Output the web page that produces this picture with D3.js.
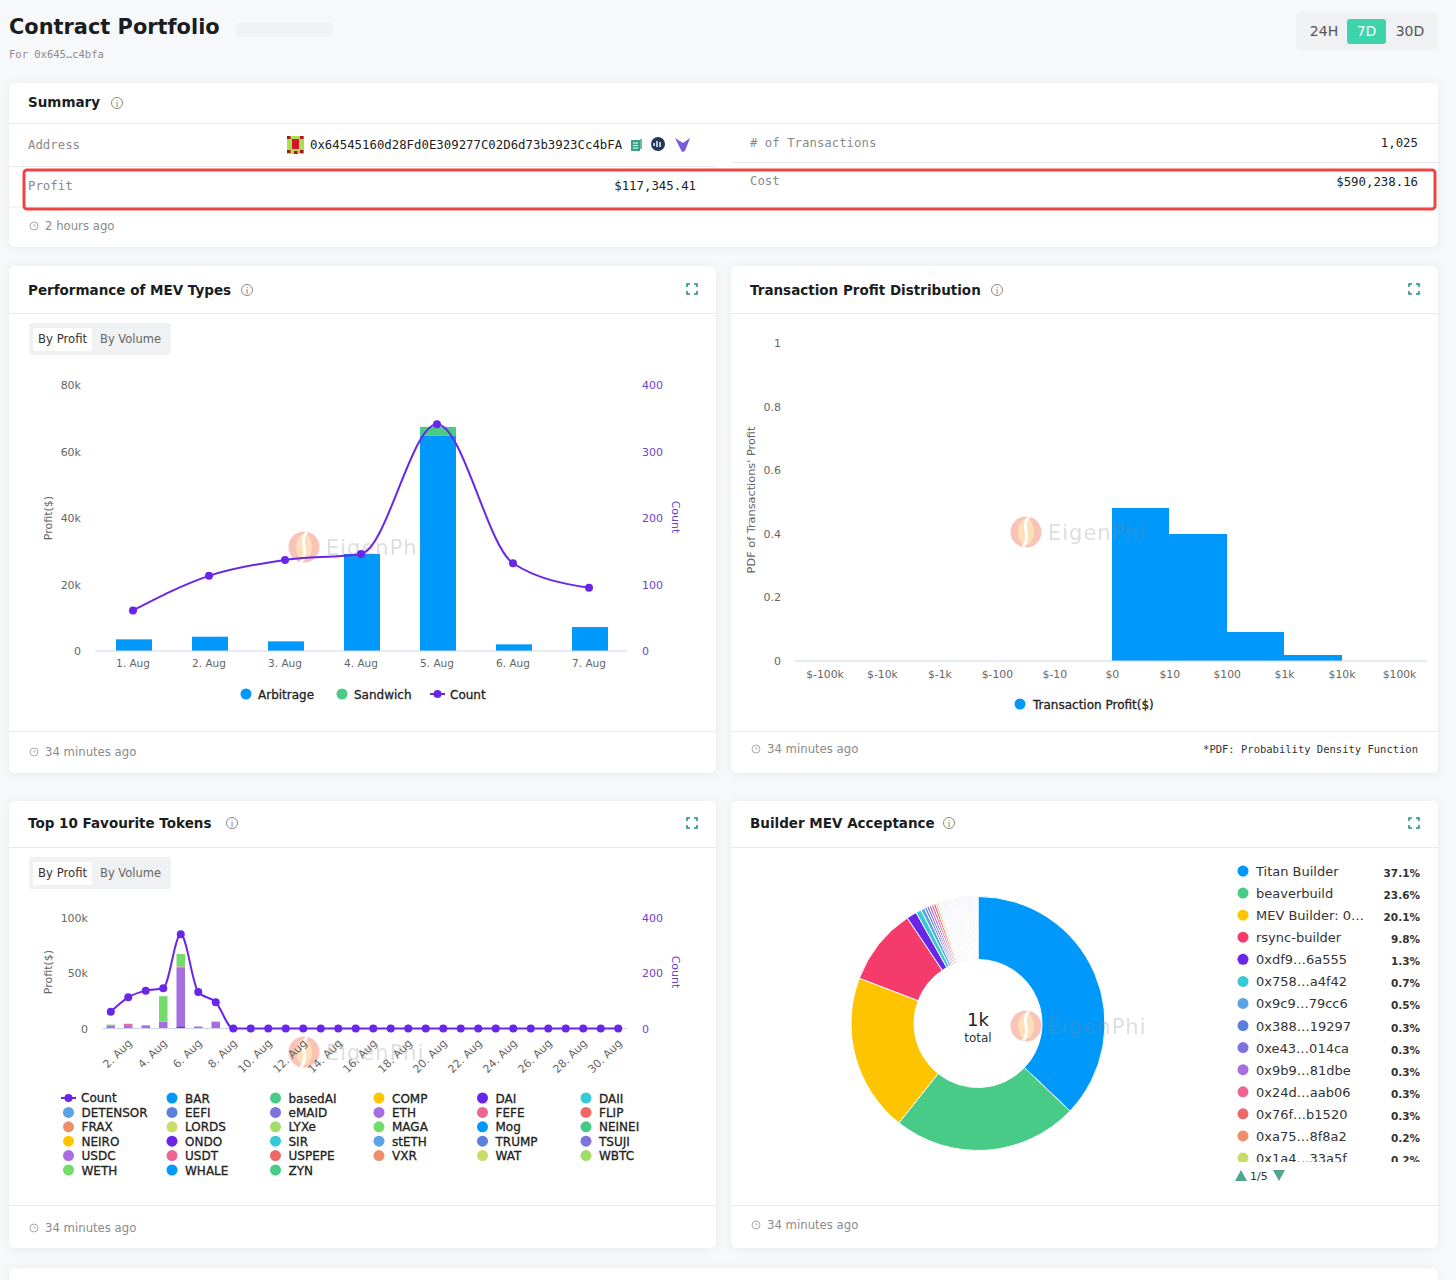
<!DOCTYPE html>
<html>
<head>
<meta charset="utf-8">
<script src="https://cdn.jsdelivr.net/npm/d3@7"></script>
<style>
  html, body { margin: 0; padding: 0; background: #f7f8fa; }
  svg { display: block; font-family: "DejaVu Sans", sans-serif; }
  .mono { font-family: "DejaVu Sans Mono", monospace; }
  .card { fill: #fff; filter: drop-shadow(0 1px 4px rgba(30, 40, 60, 0.07)); }
  .rule { stroke: #e8eaed; stroke-width: 1; }
  .tick text { font-family: "DejaVu Sans", sans-serif; }
  .key { stroke: #222; stroke-width: 0.3; }
</style>
</head>
<body>
<svg id="page" width="1456" height="1280"></svg>
<script>
// Performance of MEV Types
const mevDays = ["1. Aug", "2. Aug", "3. Aug", "4. Aug", "5. Aug", "6. Aug", "7. Aug"];
const arbitrage = [3500, 4300, 2900, 29200, 64700, 2000, 7200];
const sandwich = [0, 0, 0, 0, 2700, 0, 0];
const txCount = [61, 113, 137, 146, 341, 132, 95];
const mevProfitTicks = [0, 20000, 40000, 60000, 80000];
const countTicks = [0, 100, 200, 300, 400];

// Transaction Profit Distribution
const profitBins = ["$-100k", "$-10k", "$-1k", "$-100", "$-10", "$0", "$10", "$100", "$1k", "$10k", "$100k"];
const binDensity = [0, 0, 0, 0, 0, 0.48, 0.40, 0.09, 0.02, 0];
const pdfTicks = [0, 0.2, 0.4, 0.6, 0.8, 1];

// Top 10 Favourite Tokens
const tokenDays = ["1. Aug", "2. Aug", "3. Aug", "4. Aug", "5. Aug", "6. Aug", "7. Aug", "8. Aug", "9. Aug", "10. Aug",
  "11. Aug", "12. Aug", "13. Aug", "14. Aug", "15. Aug", "16. Aug", "17. Aug", "18. Aug", "19. Aug", "20. Aug",
  "21. Aug", "22. Aug", "23. Aug", "24. Aug", "25. Aug", "26. Aug", "27. Aug", "28. Aug", "29. Aug", "30. Aug"];
const tokenCount = [61, 113, 137, 146, 341, 132, 95, 0, 0, 0, 0, 0, 0, 0, 0, 0, 0, 0, 0, 0, 0, 0, 0, 0, 0, 0, 0, 0, 0, 0];
const ondoProfit = [0, 0, 0, 0, 2000, 0, 0];
const usdcProfit = [2200, 3000, 2900, 6200, 53000, 1800, 6200];
const usdtProfit = [0, 1300, 0, 0, 1200, 0, 0];
const wethProfit = [1300, 0, 0, 23000, 11200, 0, 0];
const tokenProfitTicks = [0, 50000, 100000];
const tokenCountTicks = [0, 200, 400];
const tokenNames = ["BAR", "basedAI", "COMP", "DAI", "DAII", "DETENSOR", "EEFI", "eMAID", "ETH", "FEFE", "FLIP",
  "FRAX", "LORDS", "LYXe", "MAGA", "Mog", "NEINEI", "NEIRO", "ONDO", "SIR", "stETH", "TRUMP", "TSUJI",
  "USDC", "USDT", "USPEPE", "VXR", "WAT", "WBTC", "WETH", "WHALE", "ZYN"];

// Builder MEV Acceptance
const builderNames = ["Titan Builder", "beaverbuild", "MEV Builder: 0…", "rsync-builder", "0xdf9…6a555", "0x758…a4f42",
  "0x9c9…79cc6", "0x388…19297", "0xe43…014ca", "0x9b9…81dbe", "0x24d…aab06", "0x76f…b1520", "0xa75…8f8a2", "0x1a4…33a5f"];
const builderLabels = ["37.1%", "23.6%", "20.1%", "9.8%", "1.3%", "0.7%", "0.5%", "0.3%", "0.3%", "0.3%", "0.3%", "0.3%", "0.2%", "0.2%"];
const builderShares = [37.1, 23.6, 20.1, 9.8, 1.3, 0.7, 0.5, 0.3, 0.3, 0.3, 0.3, 0.3, 0.2, 0.2,
  0.1, 0.1, 0.1, 0.1, 0.1, 0.1, 0.1, 0.1, 0.1, 0.1, 0.1, 0.1, 0.1, 0.1, 0.1, 0.1, 0.1, 0.1, 0.1, 0.1, 0.1, 0.1, 0.1, 0.1, 0.1,
  0.1, 0.1, 0.1, 0.1, 0.1, 0.1, 0.1, 0.1, 0.1, 0.1, 0.1, 0.1, 0.1, 0.1, 0.1, 0.1, 0.1, 0.1, 0.1, 0.1, 0.1, 0.1, 0.1, 0.1, 0.1];

const tokenPalette = ["#0098fb", "#48cb87", "#ffc400", "#6a26e8", "#36c9d6", "#5aa3e6", "#5c7fdc", "#7e72dc",
  "#a66ee0", "#ee6593", "#ee6868", "#ee8f6a", "#c8dc6a", "#a2dc6a", "#72dc6a"];
const builderPalette = ["#0098fb", "#48cb87", "#ffc400", "#f43b6b", "#6a26e8", "#36c9d6", "#5aa3e6", "#5c7fdc",
  "#7e72dc", "#a66ee0", "#ee6593", "#ee6868", "#ee8f6a", "#c8dc6a", "#a2dc6a", "#72dc6a"];
const countColor = "#6a26e8";
const axisPurple = "#6b45c9";
const axisGray = "#666";

const svg = d3.select("#page");

function label(g, x, y, str, opts = {}) {
  return g.append("text")
    .attr("x", x).attr("y", y)
    .attr("font-size", opts.size || 12)
    .attr("font-weight", opts.weight || null)
    .attr("fill", opts.fill || "#333")
    .attr("text-anchor", opts.anchor || "start")
    .attr("class", opts.mono ? "mono" : opts.key ? "key" : null)
    .text(str);
}

function hline(x1, x2, y) {
  svg.append("line").attr("class", "rule").attr("x1", x1).attr("x2", x2).attr("y1", y).attr("y2", y);
}

function infoIcon(x, y) {
  svg.append("circle").attr("cx", x).attr("cy", y).attr("r", 5.5).attr("fill", "none").attr("stroke", "#888");
  label(svg, x, y + 3.5, "i", { size: 9, fill: "#777", anchor: "middle" });
}

function expandIcon(x, y) {
  const r = 5, c = 3;
  const corners = [[-1, -1], [1, -1], [-1, 1], [1, 1]];
  svg.selectAll(null).data(corners).join("path")
    .attr("d", ([a, b]) => `M${x + a * r},${y + b * (r - c)}V${y + b * r}H${x + a * (r - c)}`)
    .attr("fill", "none").attr("stroke", "#1d8f7c").attr("stroke-width", 1.5);
}

function timeAgo(x, y, str) {
  svg.append("circle").attr("cx", x + 5).attr("cy", y - 4).attr("r", 4).attr("fill", "none").attr("stroke", "#aaa");
  svg.append("path").attr("d", `M${x + 5},${y - 6}V${y - 4}H${x + 7}`).attr("fill", "none").attr("stroke", "#aaa").attr("stroke-width", 0.8);
  label(svg, x + 16, y, str, { size: 11.7, fill: "#8a8a8a" });
}

function watermark(g, x, y) {
  const w = g.append("g").attr("transform", `translate(${x},${y})`);
  w.append("circle").attr("r", 15.5).attr("fill", "#f7b4a6").attr("opacity", 0.8);
  w.append("ellipse").attr("rx", 8).attr("ry", 13).attr("fill", "#fde2b8").attr("opacity", 0.9);
  w.append("path").attr("d", "M3,-15C-6,-6 6,4 -3,15").attr("fill", "none").attr("stroke", "#fff").attr("stroke-width", 3);
  w.append("text").attr("x", 22).attr("y", 8).attr("font-size", 21).attr("letter-spacing", 1)
    .attr("fill", "#8a8a8a").attr("opacity", 0.28).text("EigenPhi");
}

function byToggle(x, y) {
  svg.append("rect").attr("x", x).attr("y", y).attr("width", 142).attr("height", 32).attr("rx", 3).attr("fill", "#f0f1f3");
  svg.append("rect").attr("x", x + 4).attr("y", y + 5).attr("width", 59).attr("height", 23).attr("rx", 2).attr("fill", "#fff");
  label(svg, x + 9, y + 20, "By Profit", { size: 11.7, fill: "#333" });
  label(svg, x + 71, y + 20, "By Volume", { size: 11.5, fill: "#666" });
}

function styleAxis(g, color, size) {
  g.select(".domain").remove();
  g.selectAll(".tick line").remove();
  g.selectAll(".tick text").attr("fill", color).attr("font-size", size || 11);
}

function axisLine(x1, x2, y) {
  svg.append("line").attr("x1", x1).attr("x2", x2).attr("y1", y).attr("y2", y).attr("stroke", "#ccd6eb");
}

function sideTitle(x, y, str, rot, color, size) {
  svg.append("text").attr("transform", `translate(${x},${y}) rotate(${rot})`)
    .attr("text-anchor", "middle").attr("font-size", size || 11).attr("fill", color).text(str);
}

function countSeries(x, y, counts, names, dotR) {
  const line = d3.line().x((d, i) => x(names[i]) + x.bandwidth() / 2).y((d) => y(d)).curve(d3.curveMonotoneX);
  svg.append("path").attr("d", line(counts)).attr("fill", "none").attr("stroke", countColor).attr("stroke-width", 2);
  svg.selectAll(null).data(counts).join("circle")
    .attr("cx", (d, i) => x(names[i]) + x.bandwidth() / 2)
    .attr("cy", (d) => y(d))
    .attr("r", dotR)
    .attr("fill", countColor);
}

function countKey(x, y) {
  svg.append("line").attr("x1", x).attr("x2", x + 15).attr("y1", y).attr("y2", y).attr("stroke", countColor).attr("stroke-width", 2);
  svg.append("circle").attr("cx", x + 7.5).attr("cy", y).attr("r", 4).attr("fill", countColor);
}

// Page header
label(svg, 9, 34, "Contract Portfolio", { size: 20.9, weight: 700, fill: "#1a1d21" });
svg.append("rect").attr("x", 236).attr("y", 22).attr("width", 97).attr("height", 15).attr("rx", 4).attr("fill", "#f1f2f4");
label(svg, 9, 58, "For 0x645…c4bfa", { size: 10.5, fill: "#8a8a8a", mono: true });
svg.append("rect").attr("x", 1296).attr("y", 12).attr("width", 142).attr("height", 38).attr("rx", 4).attr("fill", "#f0f1f3");
svg.append("rect").attr("x", 1347).attr("y", 19).attr("width", 39).attr("height", 25).attr("rx", 3).attr("fill", "#3dd4ab");
label(svg, 1324, 36, "24H", { size: 14, fill: "#555", anchor: "middle" });
label(svg, 1366.5, 36, "7D", { size: 14, fill: "#fff", anchor: "middle" });
label(svg, 1410, 36, "30D", { size: 14, fill: "#555", anchor: "middle" });

// Cards
const cards = [[9, 83, 1429, 164], [9, 266, 707, 507], [731, 266, 707, 507], [9, 801, 707, 447], [731, 801, 707, 447], [9, 1268, 1429, 30]];
svg.selectAll("rect.card").data(cards).join("rect").attr("class", "card")
  .attr("x", (d) => d[0]).attr("y", (d) => d[1]).attr("width", (d) => d[2]).attr("height", (d) => d[3]).attr("rx", 6);

// Summary
label(svg, 28, 107, "Summary", { size: 13.5, weight: 700, fill: "#1a1d21" });
infoIcon(117, 103);
hline(9, 1438, 123.5);
hline(9, 716, 166.5);
hline(731, 1438, 162.5);
hline(9, 1438, 207);
label(svg, 28, 149, "Address", { size: 12.35, fill: "#8a8a8a", mono: true });
label(svg, 28, 190, "Profit", { size: 12.35, fill: "#8a8a8a", mono: true });
label(svg, 750, 147, "# of Transactions", { size: 12.35, fill: "#8a8a8a", mono: true });
label(svg, 750, 185, "Cost", { size: 12.35, fill: "#8a8a8a", mono: true });
label(svg, 310, 149, "0x64545160d28Fd0E309277C02D6d73b3923Cc4bFA", { size: 12.35, fill: "#222", mono: true });
label(svg, 696, 190, "$117,345.41", { size: 12.35, fill: "#222", mono: true, anchor: "end" });
label(svg, 1418, 147, "1,025", { size: 12.35, fill: "#222", mono: true, anchor: "end" });
label(svg, 1418, 186, "$590,238.16", { size: 12.35, fill: "#222", mono: true, anchor: "end" });
svg.append("rect").attr("x", 287).attr("y", 136).attr("width", 17).attr("height", 18).attr("fill", "#a9e04f");
svg.append("rect").attr("x", 292).attr("y", 139).attr("width", 7).attr("height", 10).attr("fill", "#d8132a");
svg.selectAll(null).data([[287, 136], [300, 136], [287, 150], [300, 150], [294, 151]]).join("rect")
  .attr("x", (d) => d[0]).attr("y", (d) => d[1]).attr("width", 3.5).attr("height", 3).attr("fill", "#b0122a");
svg.append("rect").attr("x", 631).attr("y", 140).attr("width", 9).attr("height", 11).attr("fill", "#3aa387");
svg.append("path").attr("d", "M633,143H638M633,145.5H638M633,148H638").attr("stroke", "#fff").attr("stroke-width", 1);
svg.append("path").attr("d", "M641,139V149").attr("stroke", "#3aa387").attr("stroke-width", 1.5);
svg.append("circle").attr("cx", 658).attr("cy", 144).attr("r", 7).attr("fill", "#23365c");
svg.append("path").attr("d", "M654,146V143M657,147V141M660,147V142").attr("stroke", "#fff").attr("stroke-width", 1.4);
svg.append("path").attr("d", "M675,138L683,143L690,138L685,151L682,152Z").attr("fill", "#7a5be0");
svg.append("rect").attr("x", 24).attr("y", 170).attr("width", 1411).attr("height", 39).attr("rx", 3)
  .attr("fill", "none").attr("stroke", "#ef4444").attr("stroke-width", 3);
timeAgo(29, 230, "2 hours ago");

// Performance of MEV Types
label(svg, 28, 295, "Performance of MEV Types", { size: 13.5, weight: 700, fill: "#1a1d21" });
infoIcon(247, 290);
expandIcon(692, 289);
hline(9, 716, 313.5);
byToggle(29, 323);

const mevX = d3.scaleBand().domain(mevDays).range([95, 627]);
const mevY = d3.scaleLinear().domain([0, 80000]).range([651, 385]);
const mevCountY = d3.scaleLinear().domain([0, 400]).range([651, 385]);
const mevRows = mevDays.map((day, i) => ({ day, Arbitrage: arbitrage[i], Sandwich: sandwich[i] }));
const mevStack = d3.stack().keys(["Arbitrage", "Sandwich"])(mevRows);
const mevColor = d3.scaleOrdinal().domain(["Arbitrage", "Sandwich"]).range([tokenPalette[0], tokenPalette[1]]);

svg.append("g").selectAll("g").data(mevStack).join("g").attr("fill", (s) => mevColor(s.key))
  .selectAll("rect").data((s) => s).join("rect")
  .attr("x", (d) => mevX(d.data.day) + 21)
  .attr("width", mevX.bandwidth() - 40)
  .attr("y", (d) => mevY(d[1]))
  .attr("height", (d) => mevY(d[0]) - mevY(d[1]));
axisLine(95, 627, 651);
watermark(svg, 304, 547);

styleAxis(svg.append("g").attr("transform", "translate(0,651)").call(d3.axisBottom(mevX).tickSize(0).tickPadding(9)), axisGray, 10.5);
styleAxis(svg.append("g").attr("transform", "translate(85,0)").call(
  d3.axisLeft(mevY).tickValues(mevProfitTicks).tickSize(0).tickPadding(4).tickFormat((d) => (d ? d / 1000 + "k" : "0"))), axisGray);
styleAxis(svg.append("g").attr("transform", "translate(638,0)").call(
  d3.axisRight(mevCountY).tickValues(countTicks).tickSize(0).tickPadding(4)), axisPurple);
sideTitle(52, 518, "Profit($)", -90, axisGray);
sideTitle(672, 517, "Count", 90, axisPurple);
countSeries(mevX, mevCountY, txCount, mevDays, 4);

svg.append("circle").attr("cx", 246).attr("cy", 694).attr("r", 5.5).attr("fill", tokenPalette[0]);
label(svg, 258, 699, "Arbitrage", { size: 12, fill: "#222", key: true });
svg.append("circle").attr("cx", 342).attr("cy", 694).attr("r", 5.5).attr("fill", tokenPalette[1]);
label(svg, 354, 699, "Sandwich", { size: 12, fill: "#222", key: true });
countKey(430, 694);
label(svg, 450, 699, "Count", { size: 12, fill: "#222", key: true });

hline(9, 716, 731.5);
timeAgo(29, 756, "34 minutes ago");

// Transaction Profit Distribution
label(svg, 750, 295, "Transaction Profit Distribution", { size: 13.5, weight: 700, fill: "#1a1d21" });
infoIcon(997, 290);
expandIcon(1414, 289);
hline(731, 1438, 313.5);

const pdfX = d3.scalePoint().domain(profitBins).range([824.5, 1399]);
const pdfY = d3.scaleLinear().domain([0, 1]).range([661, 343]);
svg.append("g").attr("shape-rendering", "crispEdges").selectAll("rect").data(binDensity).join("rect")
  .attr("x", (d, i) => pdfX(profitBins[i]))
  .attr("width", pdfX.step())
  .attr("y", (d) => pdfY(d))
  .attr("height", (d) => pdfY(0) - pdfY(d))
  .attr("fill", tokenPalette[0]);
axisLine(795, 1427, 661);
watermark(svg, 1026, 532);
styleAxis(svg.append("g").attr("transform", "translate(0,661)").call(d3.axisBottom(pdfX).tickSize(0).tickPadding(9)), axisGray, 10.8);
styleAxis(svg.append("g").attr("transform", "translate(785,0)").call(
  d3.axisLeft(pdfY).tickValues(pdfTicks).tickSize(0).tickPadding(4).tickFormat((d) => String(d))), axisGray);
sideTitle(755, 500, "PDF of Transactions' Profit", -90, axisGray, 11.3);
svg.append("circle").attr("cx", 1020).attr("cy", 704).attr("r", 5.5).attr("fill", tokenPalette[0]);
label(svg, 1033, 709, "Transaction Profit($)", { size: 12, fill: "#222", key: true });
hline(731, 1438, 731.5);
timeAgo(751, 753, "34 minutes ago");
label(svg, 1418, 753, "*PDF: Probability Density Function", { size: 10.5, fill: "#333", mono: true, anchor: "end" });

// Top 10 Favourite Tokens
label(svg, 28, 828, "Top 10 Favourite Tokens", { size: 13.5, weight: 700, fill: "#1a1d21" });
infoIcon(232, 823);
expandIcon(692, 823);
hline(9, 716, 847.5);
byToggle(29, 857);

const tokX = d3.scaleBand().domain(tokenDays).range([102, 627]);
const tokY = d3.scaleLinear().domain([0, 100000]).range([1028.5, 918]);
const tokCountY = d3.scaleLinear().domain([0, 400]).range([1028.5, 918]);
const tokKeys = ["ONDO", "USDC", "USDT", "WETH"];
const tokRows = tokenDays.slice(0, 7).map((day, i) => ({
  day, ONDO: ondoProfit[i], USDC: usdcProfit[i], USDT: usdtProfit[i], WETH: wethProfit[i],
}));
const tokStack = d3.stack().keys(tokKeys)(tokRows);
const tokColor = d3.scaleOrdinal().domain(tokenNames).range(tokenPalette);

watermark(svg, 304, 1052);
svg.append("g").selectAll("g").data(tokStack).join("g").attr("fill", (s) => tokColor(s.key))
  .selectAll("rect").data((s) => s).join("rect")
  .attr("x", (d) => tokX(d.data.day) + 4.5)
  .attr("width", tokX.bandwidth() - 9)
  .attr("y", (d) => tokY(d[1]))
  .attr("height", (d) => tokY(d[0]) - tokY(d[1]));
axisLine(102, 627, 1028.5);

const tokAxis = svg.append("g").attr("transform", "translate(0,1028.5)").call(
  d3.axisBottom(tokX).tickValues(tokenDays.filter((d, i) => i % 2 === 1)).tickSize(0).tickPadding(9));
styleAxis(tokAxis, axisGray);
tokAxis.selectAll(".tick text").attr("text-anchor", "end").attr("dx", "-7.7px").attr("dy", "4.9px").attr("transform", "rotate(-45)");
styleAxis(svg.append("g").attr("transform", "translate(92,0)").call(
  d3.axisLeft(tokY).tickValues(tokenProfitTicks).tickSize(0).tickPadding(4).tickFormat((d) => (d ? d / 1000 + "k" : "0"))), axisGray);
styleAxis(svg.append("g").attr("transform", "translate(638,0)").call(
  d3.axisRight(tokCountY).tickValues(tokenCountTicks).tickSize(0).tickPadding(4)), axisPurple);
sideTitle(52, 972, "Profit($)", -90, axisGray);
sideTitle(672, 972, "Count", 90, axisPurple);
countSeries(tokX, tokCountY, tokenCount, tokenDays, 4);

// legend runs left to right, Count takes the first slot
const legendCols = d3.scalePoint().domain(d3.range(6)).range([68.5, 586]);
const legendRows = d3.scalePoint().domain(d3.range(6)).range([1098, 1170]);
countKey(61, 1098);
label(svg, 81, 1102, "Count", { size: 12, fill: "#222", key: true });
const tokLegend = svg.append("g").selectAll("g").data(tokenNames).join("g")
  .attr("transform", (d, i) => `translate(${legendCols((i + 1) % 6)},${legendRows(Math.floor((i + 1) / 6))})`);
tokLegend.append("circle").attr("r", 5.5).attr("fill", (d) => tokColor(d));
tokLegend.append("text").attr("class", "key").attr("x", 13).attr("y", 4.5).attr("font-size", 12).attr("fill", "#222").text((d) => d);
hline(9, 716, 1205.5);
timeAgo(29, 1232, "34 minutes ago");

// Builder MEV Acceptance
label(svg, 750, 828, "Builder MEV Acceptance", { size: 13.5, weight: 700, fill: "#1a1d21" });
infoIcon(949, 823);
expandIcon(1414, 823);
hline(731, 1438, 847.5);

const pie = d3.pie().sort(null).value((d) => d);
const arc = d3.arc().innerRadius(64).outerRadius(127);
svg.append("g").attr("transform", "translate(978,1023.5)")
  .selectAll("path").data(pie(builderShares)).join("path")
  .attr("d", arc)
  .attr("fill", (d, i) => builderPalette[i < 16 ? i : i % 16])
  .attr("stroke", "#fff").attr("stroke-width", 1);
label(svg, 978, 1026, "1k", { size: 18, fill: "#222", anchor: "middle" });
label(svg, 978, 1042, "total", { size: 12, fill: "#333", anchor: "middle" });
watermark(svg, 1026, 1026);

svg.append("clipPath").attr("id", "builder-clip").append("rect").attr("x", 1230).attr("y", 860).attr("width", 200).attr("height", 302);
const builderRows = d3.scalePoint().domain(d3.range(14)).range([871, 1158]);
const builderLegend = svg.append("g").attr("clip-path", "url(#builder-clip)")
  .selectAll("g").data(builderNames).join("g")
  .attr("transform", (d, i) => `translate(0,${builderRows(i)})`);
builderLegend.append("circle").attr("cx", 1243).attr("r", 5.5).attr("fill", (d, i) => builderPalette[i]);
builderLegend.append("text").attr("x", 1256).attr("y", 5).attr("font-size", 13).attr("fill", "#333").text((d) => d);
builderLegend.append("text").attr("x", 1420).attr("y", 6).attr("font-size", 10.5).attr("font-weight", 700)
  .attr("text-anchor", "end").attr("fill", "#333").text((d, i) => builderLabels[i]);
svg.append("path").attr("d", "M1235,1181L1241,1170L1247,1181Z").attr("fill", "#4fa68d");
label(svg, 1250, 1180, "1/5", { size: 11, fill: "#333" });
svg.append("path").attr("d", "M1273,1170L1285,1170L1279,1181Z").attr("fill", "#4fa68d");
hline(731, 1438, 1205.5);
timeAgo(751, 1229, "34 minutes ago");
</script>
</body>
</html>
